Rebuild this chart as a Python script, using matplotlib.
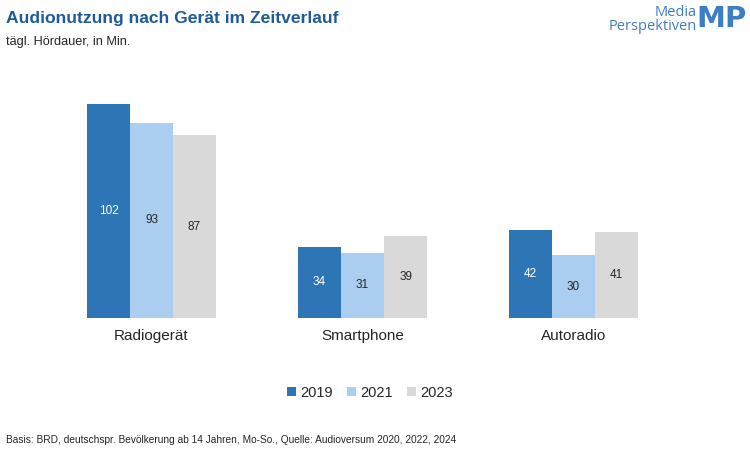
import matplotlib
matplotlib.use("Agg")
import matplotlib.pyplot as plt
from matplotlib import font_manager
import numpy as np

names = {f.name for f in font_manager.fontManager.ttflist}
narrow = "Liberation Sans Narrow" if "Liberation Sans Narrow" in names else "Liberation Sans"
plt.rcParams['font.family'] = [narrow, 'DejaVu Sans']

categories = ["Radiogerät", "Smartphone", "Autoradio"]
years = ["2019", "2021", "2023"]
v2019 = [102, 34, 42]
v2021 = [93, 31, 30]
v2023 = [87, 39, 41]
series = [v2019, v2021, v2023]
colors = ["#2E75B6", "#ABCDF0", "#D9D9D9"]
label_colors = ["white", "#262626", "#262626"]

W, H = 750, 449
fig = plt.figure(figsize=(W/100, H/100), dpi=100)
ax = fig.add_axes([46/W, 1-318/H, 633/W, (318-87.2)/H])
x = np.arange(len(categories))
bw = 0.204
for i, (vals, c, lc) in enumerate(zip(series, colors, label_colors)):
    bars = ax.bar(x + (i-1)*bw, vals, bw, color=c, label=years[i])
    for b, v in zip(bars, vals):
        ax.text(b.get_x()+b.get_width()/2, v/2, str(v), ha='center', va='center',
                color=lc, fontsize=8.5)
ax.set_xlim(-0.5, 2.5)
ax.set_ylim(0, 110)
ax.set_yticks([])
ax.set_xticks(x)
ax.set_xticklabels(categories, fontsize=11, color="#262626")
ax.tick_params(axis='x', length=0, pad=8)
for s in ax.spines.values():
    s.set_visible(False)

leg = fig.legend(loc='center', bbox_to_anchor=(370/W, 1-393/H), ncol=3, frameon=False,
                 fontsize=10.5, handlelength=0.6, handleheight=0.6, handletextpad=0.3,
                 columnspacing=1.0, labelcolor="#262626")

fig.text(6/W, 1-18/H, "Audionutzung nach Gerät im Zeitverlauf", fontsize=12.6, fontweight='bold',
         color="#1F5A99", va='center', ha='left')
fig.text(6/W, 1-42/H, "tägl. Hördauer, in Min.", fontsize=9.2, color="#262626", va='center', ha='left')
fig.text(6/W, 1-440/H, "Basis: BRD, deutschspr. Bevölkerung ab 14 Jahren, Mo-So., Quelle: Audioversum 2020, 2022, 2024",
         fontsize=7.3, color="#262626", va='center', ha='left')

# logo
fig.text(697/W, 1-12/H, "Media", fontsize=10.5, color="#3C7EC4", ha='right', va='center',
         family=['Open Sans', 'DejaVu Sans'])
fig.text(697/W, 1-27/H, "Perspektiven", fontsize=10.5, color="#3C7EC4", ha='right', va='center',
         family=['Open Sans', 'DejaVu Sans'])
fig.text(747/W, 1-19/H, "MP", fontsize=21, fontweight='bold', color="#3C7EC4", ha='right', va='center',
         family=['DejaVu Sans'])

fig.savefig("out.png", dpi=100)
